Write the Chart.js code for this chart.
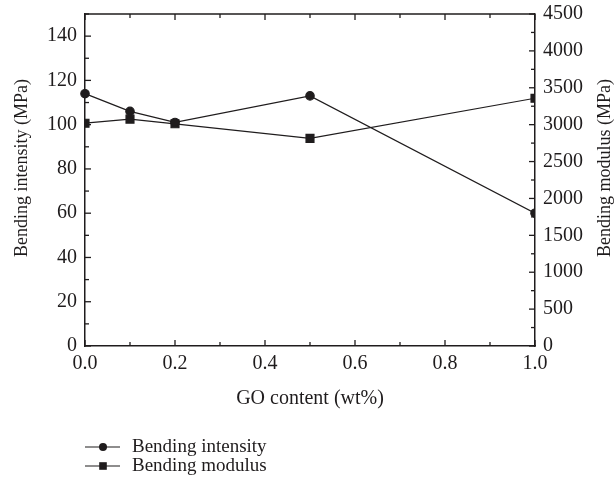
<!DOCTYPE html>
<html>
<head>
<meta charset="utf-8">
<script src="https://cdn.jsdelivr.net/npm/chart.js@4/dist/chart.umd.min.js"></script>
<style>
  html, body { margin: 0; padding: 0; background: #fff; }
</style>
</head>
<body>
<canvas id="chart" width="616" height="485"></canvas>
<script>
// values
const goContent = [0, 0.1, 0.2, 0.5, 1.0];
const bendingIntensity = [114, 106, 101, 113, 60];
const bendingModulus = [3020, 3075, 3012, 2815, 3358];
const seriesLabels = ["Bending intensity", "Bending modulus"];
const axisTitles = ["GO content (wt%)", "Bending intensity (MPa)", "Bending modulus (MPa)"];
const xTickValues = [0, 0.2, 0.4, 0.6, 0.8, 1.0];
const yLeftTicks = [0, 20, 40, 60, 80, 100, 120, 140];
const yRightTicks = [0, 500, 1000, 1500, 2000, 2500, 3000, 3500, 4000, 4500];

const INK = "#1f1c1d";
const FONT = "Liberation Serif";
const tickFont = { family: FONT, size: 20 };

const toPoints = (xs, ys) => xs.map((x, i) => ({ x: x, y: ys[i] }));

// ticks pointing into the plot, like the original figure
const inwardTicks = {
  id: "inwardTicks",
  afterDatasetsDraw(chart) {
    const { ctx, chartArea: a, scales } = chart;
    ctx.save();
    ctx.strokeStyle = INK;
    ctx.lineWidth = 1.3;
    const seg = (x1, y1, x2, y2) => {
      ctx.beginPath();
      ctx.moveTo(x1, y1);
      ctx.lineTo(x2, y2);
      ctx.stroke();
    };
    // top frame line
    seg(a.left, a.top, a.right, a.top);

    const x = scales.x;
    for (let i = 0; i <= 10; i++) {
      const px = x.getPixelForValue(i / 10);
      const len = i % 2 === 0 ? 6 : 4;
      seg(px, a.bottom, px, a.bottom - len);
      seg(px, a.top, px, a.top + len);
    }
    const y = scales.y;
    for (let v = 0; v <= 150; v += 10) {
      const py = y.getPixelForValue(v);
      seg(a.left, py, a.left + (v % 20 === 0 ? 6 : 4), py);
    }
    const y1 = scales.y1;
    for (let v = 0; v <= 4500; v += 250) {
      const py = y1.getPixelForValue(v);
      seg(a.right, py, a.right - (v % 500 === 0 ? 6 : 4), py);
    }
    ctx.restore();
  }
};

// both vertical titles read bottom to top in the original
const sideTitles = {
  id: "sideTitles",
  afterDraw(chart) {
    const { ctx } = chart;
    ctx.save();
    ctx.fillStyle = INK;
    ctx.font = "18px '" + FONT + "'";
    ctx.textAlign = "center";
    ctx.textBaseline = "middle";
    [[22, axisTitles[1]], [605, axisTitles[2]]].forEach(([cx, text]) => {
      ctx.save();
      ctx.translate(cx, 168);
      ctx.rotate(-Math.PI / 2);
      ctx.fillText(text, 0, 0);
      ctx.restore();
    });
    ctx.restore();
  }
};

// legend below the plot: short line with the marker, then the label
const lineLegend = {
  id: "lineLegend",
  afterDraw(chart) {
    const { ctx } = chart;
    const x0 = 85, x1 = 120, rowY = [447, 466];
    ctx.save();
    chart.data.datasets.forEach((ds, i) => {
      const yy = rowY[i];
      ctx.strokeStyle = INK;
      ctx.lineWidth = 1.2;
      ctx.beginPath();
      ctx.moveTo(x0, yy);
      ctx.lineTo(x1, yy);
      ctx.stroke();
      ctx.fillStyle = INK;
      const mx = 103;
      if (ds.pointStyle === "circle") {
        ctx.beginPath();
        ctx.arc(mx, yy, 4, 0, Math.PI * 2);
        ctx.fill();
      } else {
        ctx.fillRect(mx - 3.8, yy - 3.8, 7.6, 7.6);
      }
      ctx.font = "19px '" + FONT + "'";
      ctx.textBaseline = "middle";
      ctx.textAlign = "left";
      ctx.fillText(ds.label, 132, yy);
    });
    ctx.restore();
  }
};

new Chart(document.getElementById("chart").getContext("2d"), {
  type: "line",
  data: {
    datasets: [
      {
        label: seriesLabels[0],
        data: toPoints(goContent, bendingIntensity),
        yAxisID: "y",
        borderColor: INK,
        backgroundColor: INK,
        borderWidth: 1.2,
        pointStyle: "circle",
        pointRadius: 4.2,
        pointHoverRadius: 4.2,
        clip: { left: 8, right: 0, top: 8, bottom: 8 }
      },
      {
        label: seriesLabels[1],
        data: toPoints(goContent, bendingModulus),
        yAxisID: "y1",
        borderColor: INK,
        backgroundColor: INK,
        borderWidth: 1.2,
        pointStyle: "rect",
        pointRadius: 5.6,
        pointHoverRadius: 5.6,
        clip: { left: 0, right: 0, top: 8, bottom: 8 }
      }
    ]
  },
  options: {
    responsive: false,
    animation: false,
    events: [],
    layout: { padding: { top: 14, bottom: 75, left: 0, right: 0 } },
    plugins: {
      legend: { display: false },
      tooltip: { enabled: false }
    },
    scales: {
      x: {
        type: "linear",
        min: 0,
        max: 1.0,
        afterFit(scale) {
          scale.height = 64;
          scale.paddingLeft = 0;
          scale.paddingRight = 0;
        },
        afterBuildTicks(scale) { scale.ticks = xTickValues.map(v => ({ value: v })); },
        grid: { display: false, drawTicks: false },
        border: { display: true, color: INK, width: 1.5 },
        ticks: {
          color: INK,
          padding: 6,
          maxRotation: 0,
          font: tickFont,
          callback: v => v.toFixed(1)
        },
        title: {
          display: true,
          text: axisTitles[0],
          color: INK,
          font: { family: FONT, size: 20 },
          padding: { top: 0, bottom: -1 }
        }
      },
      y: {
        position: "left",
        min: 0,
        max: 150,
        afterFit(scale) {
          scale.width = 85;
          scale.paddingTop = 0;
          scale.paddingBottom = 0;
        },
        afterBuildTicks(scale) { scale.ticks = yLeftTicks.map(v => ({ value: v })); },
        grid: { display: false, drawTicks: false },
        border: { display: true, color: INK, width: 1.5 },
        ticks: {
          color: INK,
          padding: 8,
          font: tickFont,
          callback: v => String(v)
        }
      },
      y1: {
        position: "right",
        min: 0,
        max: 4500,
        afterFit(scale) {
          scale.width = 81;
          scale.paddingTop = 0;
          scale.paddingBottom = 0;
        },
        afterBuildTicks(scale) { scale.ticks = yRightTicks.map(v => ({ value: v })); },
        grid: { display: false, drawTicks: false },
        border: { display: true, color: INK, width: 1.5 },
        ticks: {
          color: INK,
          padding: 8,
          font: tickFont,
          callback: v => String(v)
        }
      }
    }
  },
  plugins: [inwardTicks, sideTitles, lineLegend]
});
</script>
</body>
</html>
